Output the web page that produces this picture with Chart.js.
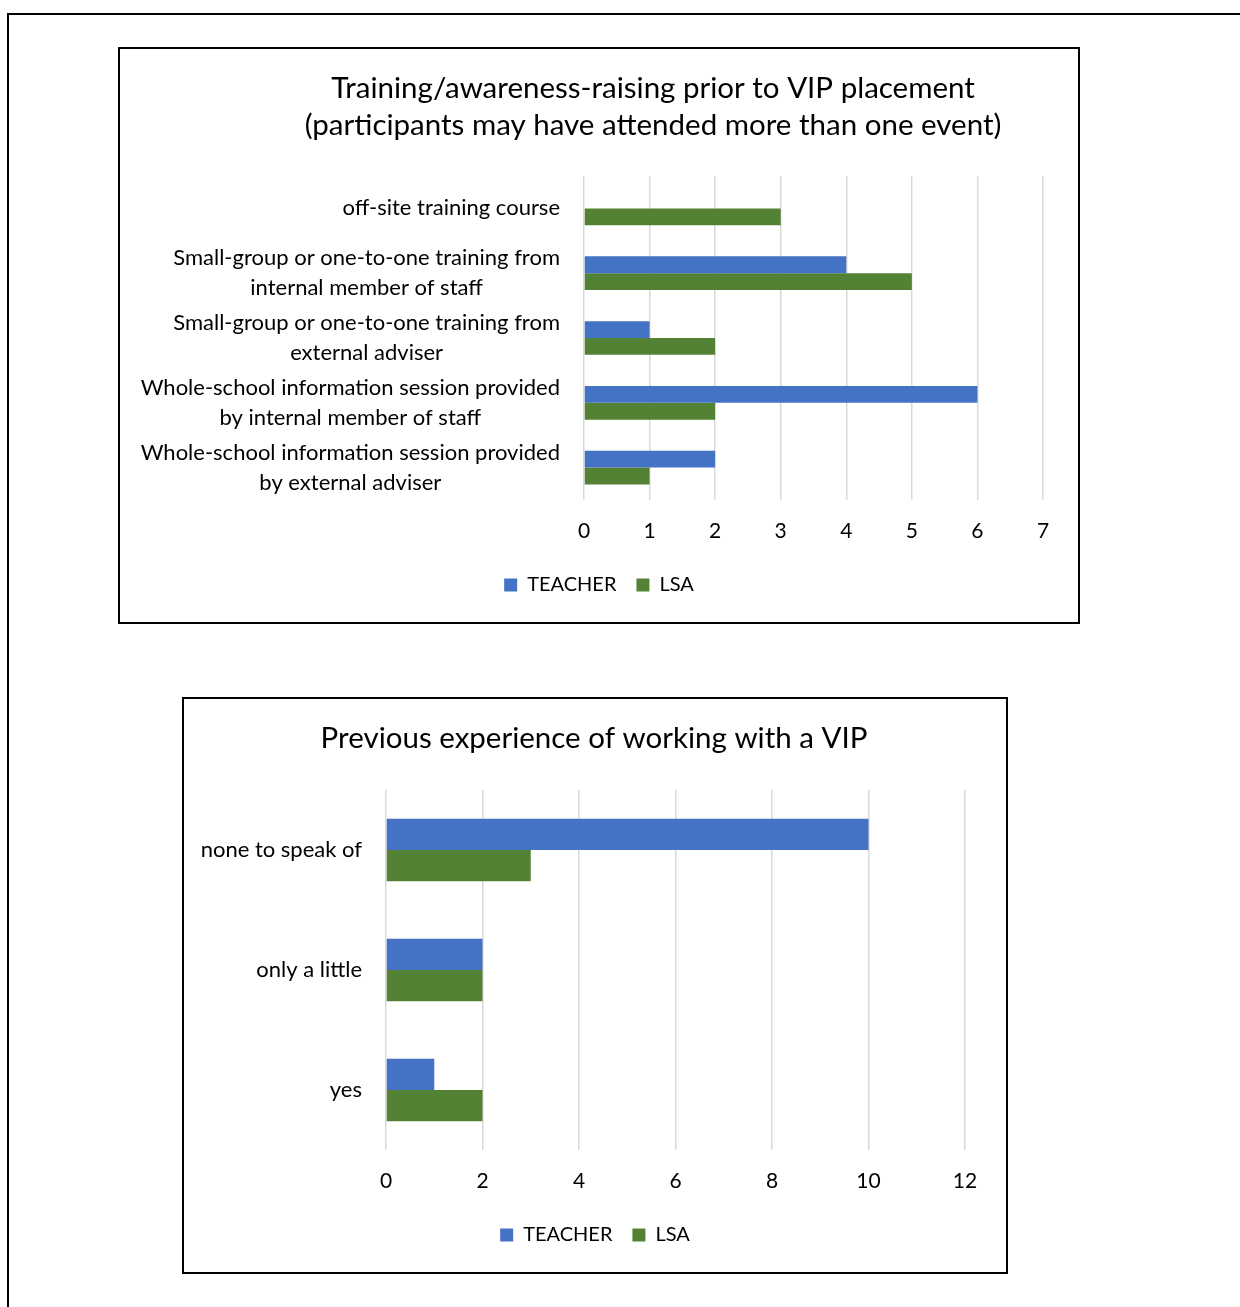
<!DOCTYPE html>
<html>
<head>
<meta charset="utf-8">
<title>VIP training charts</title>
<script src="https://cdn.jsdelivr.net/npm/chart.js@4.4.1/dist/chart.umd.min.js"></script>
<style>
  body { margin: 0; background: #fff; }
  .frame { position: absolute; left: 7px; top: 13px; width: 1300px; height: 1400px;
           border-left: 2px solid #000; border-top: 2px solid #000; }
  .box { position: absolute; border: 2px solid #000; background: #fff; }
  #box1 { left: 118px; top: 47px; width: 958px; height: 573px; }
  #box2 { left: 182px; top: 697px; width: 822px; height: 573px; }
  canvas { display: block; }
</style>
</head>
<body>
<div class="frame"></div>
<div class="box" id="box1"><canvas id="chart1" width="958" height="573"></canvas></div>
<div class="box" id="box2"><canvas id="chart2" width="822" height="573"></canvas></div>
<script>
// chart 1 data
const trainingLabels = [
  ['off-site training course'],
  ['Small-group or one-to-one training from', 'internal member of staff'],
  ['Small-group or one-to-one training from', 'external adviser'],
  ['Whole-school information session provided', 'by internal member of staff'],
  ['Whole-school information session provided', 'by external adviser']
]
const trainingTeacher = [0, 4, 1, 6, 2]
const trainingLSA = [3, 5, 2, 2, 1]
const trainingTicks = [0, 1, 2, 3, 4, 5, 6, 7]

// chart 2 data
const experienceLabels = [['none to speak of'], ['only a little'], ['yes']]
const experienceTeacher = [10, 2, 1]
const experienceLSA = [3, 2, 2]
const experienceTicks = [0, 2, 4, 6, 8, 10, 12]

const FONT = 'Lato, "Open Sans", sans-serif'
const BLUE = '#4472C4'
const GREEN = '#548235'

// title drawn at its own x, Excel puts it off centre sometimes
const boxTitle = {
  id: 'boxTitle',
  afterDraw(chart, args, opts) {
    const ctx = chart.ctx
    ctx.save()
    ctx.font = opts.size + 'px ' + FONT
    ctx.fillStyle = '#000'
    ctx.textAlign = 'center'
    ctx.textBaseline = 'middle'
    opts.lines.forEach((line, i) => ctx.fillText(line, opts.x, opts.y + i * opts.lineGap))
    ctx.restore()
  }
}

// category labels: block right aligned to the plot, lines centred in the block
const catLabels = {
  id: 'catLabels',
  afterDraw(chart, args, opts) {
    const ctx = chart.ctx
    const y = chart.scales.y
    ctx.save()
    ctx.font = opts.size + 'px ' + FONT
    ctx.fillStyle = '#000'
    ctx.textAlign = 'center'
    ctx.textBaseline = 'middle'
    chart.data.labels.forEach((lines, i) => {
      const w = Math.max(...lines.map(l => ctx.measureText(l).width))
      const cx = chart.chartArea.left - opts.gap - w / 2
      const cy = y.getPixelForTick(i)
      lines.forEach((l, j) => {
        ctx.fillText(l, cx, cy + (j - (lines.length - 1) / 2) * opts.lineGap)
      })
    })
    ctx.restore()
  }
}

const makeChart = (id, labels, teacher, lsa, ticks, leftW, rightW, top, title) => {
  return new Chart(document.getElementById(id), {
    type: 'bar',
    data: {
      labels: labels,
      datasets: [
        { label: 'TEACHER', data: teacher, backgroundColor: BLUE },
        { label: 'LSA', data: lsa, backgroundColor: GREEN }
      ]
    },
    plugins: [boxTitle, catLabels],
    options: {
      indexAxis: 'y',
      responsive: false,
      animation: false,
      categoryPercentage: 0.52,
      barPercentage: 1.0,
      layout: { padding: { top: top, left: 0, right: 0, bottom: 17 } },
      scales: {
        x: {
          min: ticks[0],
          max: ticks[ticks.length - 1],
          afterBuildTicks: s => { s.ticks = ticks.map(v => ({ value: v })) },
          grid: { color: '#d9d9d9', lineWidth: 1.5, drawTicks: false },
          border: { display: false },
          ticks: { color: '#000', padding: 19, font: { family: FONT, size: 21 } },
          afterFit: s => { s.height = 55 }
        },
        y: {
          grid: { display: false },
          border: { display: false },
          ticks: { display: false },
          afterFit: s => { s.width = leftW }
        },
        // empty right axis, only keeps the plot off the right edge
        y2: {
          position: 'right',
          grid: { display: false },
          border: { display: false },
          ticks: { display: false },
          afterFit: s => { s.width = rightW }
        }
      },
      plugins: {
        title: { display: false },
        tooltip: { enabled: false },
        legend: {
          position: 'bottom',
          labels: { color: '#000', boxWidth: 13, boxHeight: 13, padding: 20, font: { family: FONT, size: 20 } }
        },
        boxTitle: title,
        catLabels: { size: 22, gap: 24, lineGap: 30 }
      }
    }
  })
}

makeChart('chart1', trainingLabels, trainingTeacher, trainingLSA, trainingTicks, 464, 35, 127,
  { lines: ['Training/awareness-raising prior to VIP placement', '(participants may have attended more than one event)'],
    x: 533, y: 39, lineGap: 37, size: 29.5 })

makeChart('chart2', experienceLabels, experienceTeacher, experienceLSA, experienceTicks, 202, 41, 91,
  { lines: ['Previous experience of working with a VIP'], x: 410, y: 39, lineGap: 37, size: 29.5 })
</script>
</body>
</html>
